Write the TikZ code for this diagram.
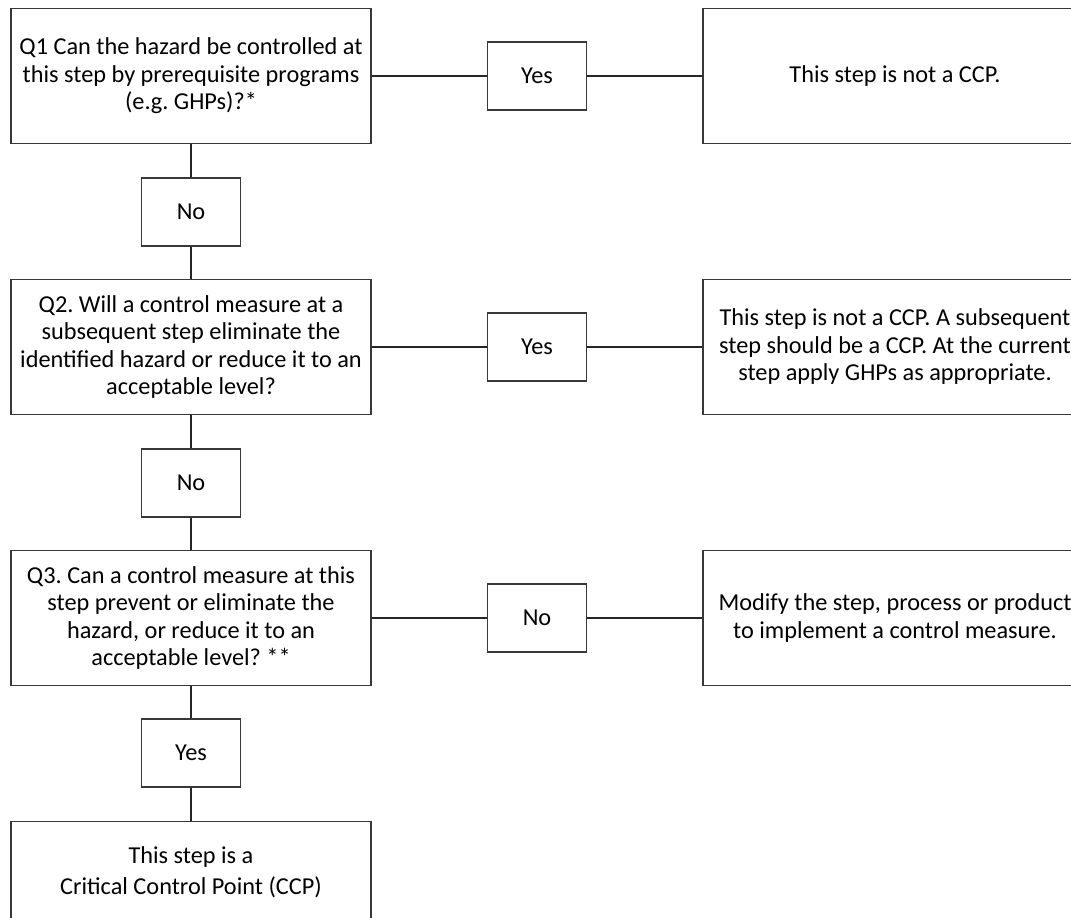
\documentclass[tikz,border=0pt]{standalone}
\usepackage{fontspec}
\setmainfont{Carlito}
\frenchspacing
\begin{document}
\begin{tikzpicture}[x=1pt,y=-1pt,
  box/.style={draw=black!78, line width=1.3pt, fill=white, align=center, inner sep=0pt,
    font=\fontsize{24.3pt}{27.5pt}\selectfont\frenchspacing},
  bigbox/.style={box, minimum width=360pt, minimum height=135pt},
  rbox/.style={box, minimum width=384pt, minimum height=135pt},
  ansbox/.style={box, minimum width=99pt, minimum height=68pt},
  link/.style={draw=black!85, line width=1.1pt}]
\useasboundingbox (0,0) rectangle (1071,918);
\clip (0,0) rectangle (1071,918);
\fill[white] (0,0) rectangle (1071,918);

\node[bigbox] (q1) at (191,76) {Q1 Can the hazard be controlled at\\this step by prerequisite programs\\(e.g. GHPs)?*};
\node[ansbox] (yes1) at (537,76) {Yes};
\node[rbox] (r1) at (895,76) {This step is not a CCP.};
\node[ansbox] (no1) at (191,212) {No};

\node[bigbox] (q2) at (191,347) {Q2. Will a control measure at a\\subsequent step eliminate the\\identified hazard or reduce it to an\\acceptable level?};
\node[ansbox] (yes2) at (537,347) {Yes};
\node[rbox] (r2) at (895,347) {This step is not a CCP. A subsequent\\step should be a CCP. At the current\\step apply GHPs as appropriate.};
\node[ansbox] (no2) at (191,483) {No};

\node[bigbox] (q3) at (191,618) {Q3. Can a control measure at this\\step prevent or eliminate the\\hazard, or reduce it to an\\acceptable level? **};
\node[ansbox] (no3) at (537,618) {No};
\node[rbox] (r3) at (895,618) {Modify the step, process or product\\to implement a control measure.};
\node[ansbox] (yes3) at (191,753) {Yes};

\node[bigbox, anchor=north] (ccp) at (191,821) {};
\node[align=center, inner sep=0pt, font=\fontsize{24.3pt}{31pt}\selectfont] (ccptext) at (191,872) {This step is a\\Critical Control Point (CCP)};

\draw[link] (q1.east) -- (yes1.west);
\draw[link] (yes1.east) -- (r1.west);
\draw[link] (q1.south) -- (no1.north);
\draw[link] (no1.south) -- (q2.north);
\draw[link] (q2.east) -- (yes2.west);
\draw[link] (yes2.east) -- (r2.west);
\draw[link] (q2.south) -- (no2.north);
\draw[link] (no2.south) -- (q3.north);
\draw[link] (q3.east) -- (no3.west);
\draw[link] (no3.east) -- (r3.west);
\draw[link] (q3.south) -- (yes3.north);
\draw[link] (yes3.south) -- (ccp.north);
\end{tikzpicture}
\end{document}
